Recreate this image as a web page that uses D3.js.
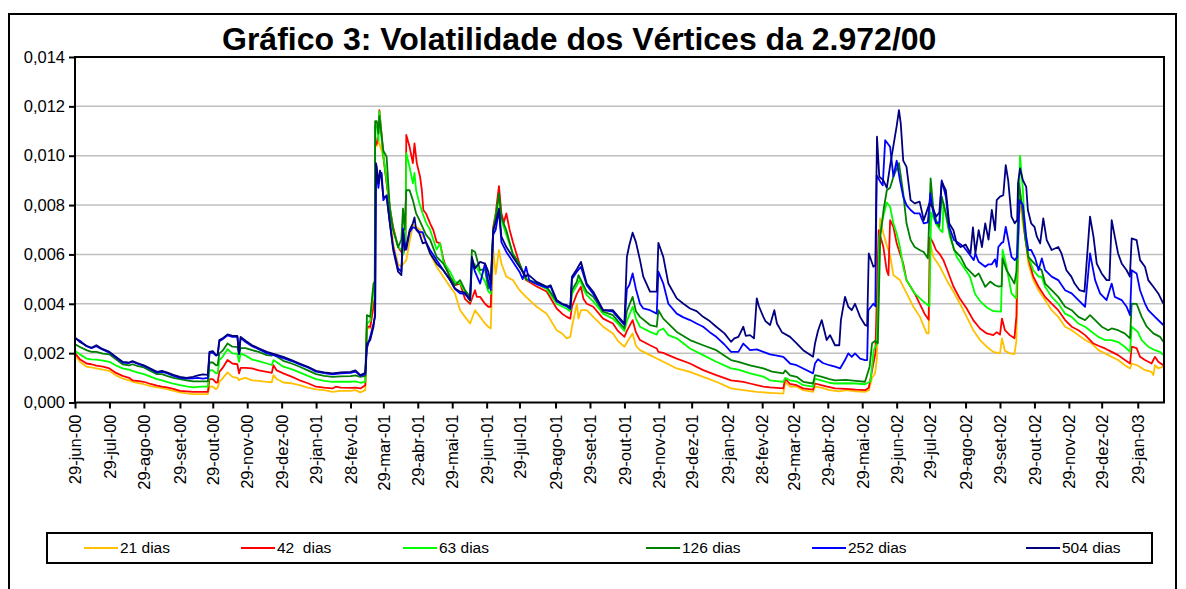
<!DOCTYPE html>
<html>
<head>
<meta charset="utf-8">
<script src="https://cdn.jsdelivr.net/npm/d3@7"></script>
<style>
  body { margin: 0; background: #fff; }
  svg { display: block; font-family: "Liberation Sans", Arial, sans-serif; }
</style>
</head>
<body>
<script>
// values are in thousandths (1,000 = 0,001), x is the business-day index from 29-jun-00
const tickDays = [0, 21, 42, 64, 84, 105, 126, 147, 168, 188, 209, 230, 251, 271, 293, 314,
    335, 356, 376, 398, 419, 438, 459, 480, 501, 521, 543, 564, 585, 606, 626, 648];
const tickLabels = ["29-jun-00", "29-jul-00", "29-ago-00", "29-set-00", "29-out-00", "29-nov-00",
    "29-dez-00", "29-jan-01", "28-fev-01", "29-mar-01", "29-abr-01", "29-mai-01", "29-jun-01",
    "29-jul-01", "29-ago-01", "29-set-01", "29-out-01", "29-nov-01", "29-dez-01", "29-jan-02",
    "28-fev-02", "29-mar-02", "29-abr-02", "29-mai-02", "29-jun-02", "29-jul-02", "29-ago-02",
    "29-set-02", "29-out-02", "29-nov-02", "29-dez-02", "29-jan-03"];
const yTicks = [0, 2, 4, 6, 8, 10, 12, 14];

const seriesNames = ["21 dias", "42  dias", "63 dias", "126 dias", "252 dias", "504 dias"];
const seriesColors = ["#ffc000", "#ff0000", "#00ff00", "#008000", "#0000ff", "#000080"];

const vol21 = [[0,1.92],[3,1.65],[7,1.45],[10,1.42],[13,1.38],[17,1.33],[21,1.28],[25,1.1],[29,0.97],[33,0.9],[35,0.84],[38,0.8],[42,0.74],[46,0.66],[50,0.61],[53,0.58],[56,0.54],[60,0.47],[64,0.41],[68,0.37],[72,0.34],[75,0.34],[78,0.34],[81,0.34],[82,0.64],[84,0.64],[86,0.54],[87,0.6],[88,0.84],[90,0.98],[93,1.22],[96,1.04],[99,1.0],[100,0.9],[101,0.95],[104,1.0],[108,0.9],[112,0.88],[117,0.84],[120,0.82],[121,1.11],[123,0.95],[127,0.81],[132,0.78],[137,0.7],[142,0.6],[147,0.53],[152,0.5],[157,0.43],[162,0.47],[168,0.47],[171,0.5],[174,0.41],[177,0.5],[178,3.0],[180,3.0],[182,4.0],[182.8,4.2],[183,10.4],[184,10.4],[185,10.6],[186,10.4],[187,10.2],[188,9.9],[190,8.9],[192,7.8],[194,6.45],[197,5.6],[199,5.5],[200,5.6],[202,5.77],[204,6.5],[206,7.2],[208.4,7.1],[210.4,7.0],[212.4,6.7],[214,6.5],[216.5,6.04],[220.5,5.5],[224.6,5.1],[228.7,4.69],[231.7,4.42],[234.8,3.74],[237.8,3.47],[240.9,3.2],[243.9,3.74],[247,3.47],[250,3.2],[252,3.07],[253.5,3.0],[255,6.18],[256.5,5.2],[258.5,6.18],[260,5.63],[263,5.1],[267,4.96],[271,4.55],[275,4.28],[281.5,3.88],[287.6,3.6],[293.7,2.93],[297,2.8],[299.8,2.6],[302,2.66],[303,3.07],[306,4.0],[307,3.4],[308.5,3.74],[312,3.74],[316,3.47],[322,3.07],[328,2.8],[331,2.5],[335,2.26],[337.4,2.53],[340,2.8],[342,2.3],[344.5,2.12],[350.6,1.92],[354.7,1.78],[358.7,1.65],[361.8,1.55],[366.9,1.38],[375,1.24],[383,1.04],[391,0.84],[400,0.57],[407.5,0.5],[415.7,0.43],[423.8,0.39],[431.9,0.36],[433,0.84],[436,0.64],[440,0.64],[444,0.5],[450,0.43],[451.2,0.64],[455,0.6],[460,0.5],[466,0.45],[470,0.5],[476,0.45],[481.7,0.43],[484,0.5],[486,1.0],[487.8,1.18],[489,1.8],[490.9,7.46],[492.9,6.85],[494.9,6.38],[497,5.97],[499,5.16],[503,4.96],[507.1,4.42],[511.2,3.88],[515.2,3.47],[519.3,2.8],[520.5,2.8],[521.3,6.45],[523.4,5.9],[527.4,5.5],[531.5,4.96],[535.6,4.49],[539.6,4.0],[543.7,3.47],[547.7,2.93],[551.8,2.53],[555.9,2.26],[559.9,2.05],[564,1.99],[565.2,2.6],[567,2.1],[570,1.99],[572.8,1.96],[574,2.5],[575.5,7.5],[576.5,8.07],[578,7.2],[579.3,6.72],[581.3,5.63],[584.3,4.96],[587.5,4.55],[591.5,4.15],[595.5,3.74],[599.5,3.47],[603.7,3.07],[607.7,2.93],[611.8,2.73],[615.9,2.53],[620,2.39],[624,2.12],[628,1.99],[632.1,1.85],[636,1.72],[640.2,1.51],[643.3,1.38],[644.3,1.58],[648,1.5],[652.4,1.31],[656.4,1.24],[657.5,1.11],[658.5,1.51],[660.5,1.38],[663.6,1.45]];

const vol42 = [[0,2.0],[3,1.75],[7,1.58],[10,1.55],[13,1.49],[17,1.45],[21,1.38],[25,1.2],[29,1.08],[33,1.0],[35,0.9],[38,0.88],[42,0.84],[46,0.75],[50,0.68],[53,0.64],[56,0.61],[60,0.55],[64,0.47],[68,0.45],[72,0.43],[75,0.43],[78,0.43],[81,0.43],[82,0.95],[84,0.95],[86,0.81],[87,0.82],[88,1.24],[90,1.4],[93,1.72],[96,1.58],[99,1.55],[100,1.18],[101,1.4],[104,1.4],[108,1.38],[112,1.3],[117,1.24],[120,1.2],[121,1.51],[123,1.3],[127,1.18],[132,1.05],[137,0.9],[142,0.78],[147,0.64],[152,0.6],[157,0.57],[159,0.64],[162,0.6],[168,0.59],[171,0.6],[174,0.57],[177,0.7],[178,3.07],[180,3.07],[182,3.9],[182.8,4.2],[183,10.4],[184,10.5],[185,11.0],[185.6,11.85],[187,10.8],[188,10.0],[190,8.9],[192,7.9],[194,7.1],[197,6.3],[199,6.1],[200,6.0],[201.5,6.3],[202,10.84],[204,10.36],[206,9.7],[207,10.5],[208.4,9.7],[210.4,9.15],[211.5,8.6],[212.4,7.8],[214,7.66],[216.5,7.26],[218.5,6.98],[220.5,6.5],[222.6,6.45],[224.6,5.8],[228.7,5.03],[231.7,4.76],[234.8,4.82],[237.8,4.2],[240.9,4.0],[243.9,4.55],[245,4.28],[247,4.28],[250,4.0],[252,3.88],[253.5,3.88],[255,7.12],[256.5,7.66],[258.5,8.77],[260,7.66],[261.5,7.3],[263,7.66],[265,7.0],[267,6.5],[271,5.63],[275,4.96],[281.5,4.7],[287.6,4.5],[293.7,3.81],[297,3.6],[299.8,3.47],[302,3.4],[303,3.88],[306,4.4],[308.5,4.69],[310,4.2],[312,4.0],[316,3.88],[322,3.4],[328,3.2],[331,2.9],[335,2.66],[336.5,2.9],[340,3.34],[342,2.85],[344.5,2.53],[350.6,2.32],[354.7,2.19],[355.7,2.05],[358.7,2.01],[361.8,1.92],[366.9,1.78],[375,1.58],[383,1.31],[391,1.11],[400,0.9],[407.5,0.84],[411.6,0.77],[415.7,0.7],[419.7,0.64],[423.8,0.61],[431.9,0.57],[433,0.97],[436,0.75],[440,0.7],[444,0.57],[450,0.52],[451.2,0.77],[455,0.7],[458,0.65],[463.4,0.57],[470,0.55],[476,0.52],[481.7,0.5],[484,0.6],[486.8,1.58],[488,1.99],[490,6.98],[492.9,6.3],[494.9,5.36],[496,5.16],[497,7.39],[499,7.12],[501,6.45],[503,6.04],[505,5.63],[507,4.96],[509.5,4.69],[512,4.42],[515,4.01],[518,3.6],[520.5,3.35],[521.3,6.7],[523,6.5],[525,6.18],[527.4,6.0],[529.5,5.77],[531.5,5.43],[535.6,4.7],[539.6,4.2],[543.7,3.81],[547.7,3.34],[551.8,3.0],[555.9,2.8],[559.9,2.73],[562,2.85],[564,2.75],[565.2,3.4],[567,2.93],[570,2.73],[572.8,2.6],[574,3.5],[575.5,8.0],[576.2,8.3],[578,7.8],[579.3,6.72],[581.3,5.84],[584.3,5.1],[587.5,4.69],[591.5,4.28],[595.5,4.01],[599.5,3.74],[603.7,3.34],[607.7,3.07],[611.8,2.93],[615.9,2.73],[618.9,2.53],[621,2.39],[624,2.3],[628,2.19],[632.1,2.05],[636,1.92],[640.2,1.72],[643.3,1.58],[644.3,2.26],[647.3,2.2],[649.4,1.85],[652.4,1.72],[656.4,1.58],[658.5,1.85],[660.5,1.65],[663.6,1.51]];

const vol63 = [[0,2.1],[3,1.95],[7,1.78],[10,1.75],[13,1.74],[17,1.7],[21,1.65],[25,1.5],[29,1.38],[33,1.33],[35,1.28],[38,1.22],[42,1.15],[46,1.05],[50,0.95],[53,0.9],[56,0.84],[60,0.76],[64,0.7],[68,0.65],[72,0.61],[75,0.63],[78,0.64],[81,0.64],[82,1.31],[84,1.3],[86,1.18],[87,1.2],[88,1.72],[90,1.85],[93,2.16],[96,1.99],[99,1.97],[100,1.65],[101,1.99],[104,1.9],[108,1.74],[112,1.68],[117,1.58],[120,1.52],[121,1.72],[127,1.45],[132,1.35],[137,1.22],[142,1.08],[147,0.95],[152,0.88],[157,0.84],[162,0.84],[168,0.84],[171,0.86],[174,0.8],[177,0.84],[178,3.2],[180,3.3],[182,4.55],[182.8,4.9],[183,11.2],[184,11.2],[185,10.6],[185.6,11.8],[187,10.7],[188,10.0],[190,9.0],[192,7.9],[194,7.0],[197,6.3],[199,6.2],[200,6.0],[201.5,6.4],[202,10.1],[204,9.55],[206,8.88],[207,9.3],[208,8.6],[210,8.07],[212,7.66],[214,7.3],[216.5,7.0],[220.5,6.2],[222.6,6.45],[224.6,5.7],[228.7,5.3],[231.7,4.9],[234.8,4.82],[237.8,4.5],[240.9,4.1],[242,5.5],[243.9,5.6],[247,5.23],[250,4.9],[252,4.5],[253.5,4.4],[255,6.9],[256.5,7.6],[258.5,8.3],[260,7.4],[263,6.8],[267,6.04],[271,5.6],[275,5.0],[281.5,4.8],[287.6,4.6],[293.7,4.0],[299.8,3.8],[302,3.7],[303,4.4],[306,4.75],[308,5.0],[310,4.6],[312,4.35],[316,4.1],[322,3.6],[328,3.4],[331,3.2],[335,2.9],[336.5,3.3],[340,3.88],[342,3.4],[344.5,3.07],[350.6,2.86],[354.7,2.75],[355.7,2.9],[358.7,3.0],[361.8,2.73],[366.9,2.6],[375,2.19],[383,1.92],[391,1.65],[400,1.38],[404.5,1.33],[411.6,1.18],[419.7,1.05],[423.8,0.9],[431.9,0.84],[433,1.0],[436,0.9],[440,0.86],[444,0.7],[450,0.64],[451.2,0.97],[455,0.9],[460,0.8],[463.4,0.77],[470,0.78],[476,0.77],[481.7,0.74],[485,0.85],[487,2.12],[489,2.4],[490.5,6.7],[493,7.6],[495,8.1],[497,7.93],[499,7.26],[501,6.85],[503,6.3],[505,5.5],[507,4.96],[509.5,4.69],[512,4.42],[517.5,4.08],[520,3.95],[521,3.9],[522,7.7],[525.4,7.19],[527.4,7.0],[529,6.9],[529.5,8.1],[531.5,7.4],[533.5,6.7],[537.6,5.9],[541.7,5.5],[545.7,5.1],[548.8,4.4],[552,4.1],[556,3.85],[560,3.7],[564.6,3.68],[565.6,6.18],[568,5.5],[571,4.42],[573.8,4.22],[575,6.0],[576.2,10.0],[578,8.6],[579.3,6.72],[581.3,5.9],[584.3,5.36],[587.5,5.1],[589.4,5.1],[591.5,4.69],[595.5,4.28],[599.5,4.01],[603.7,3.6],[607.7,3.47],[611.8,3.2],[615.9,3.07],[620,2.86],[624,2.66],[628,2.53],[632,2.53],[636,2.45],[640,2.26],[643.3,2.05],[644.3,3.07],[648,2.86],[650.4,2.53],[654.4,2.26],[658.5,2.12],[661.5,2.05],[663.6,1.92]];

const vol126 = [[0,2.36],[3,2.25],[7,2.12],[10,2.05],[13,2.05],[17,1.98],[21,1.95],[25,1.75],[29,1.55],[33,1.5],[35,1.55],[38,1.48],[42,1.42],[46,1.28],[50,1.15],[53,1.15],[56,1.08],[60,1.0],[64,0.95],[68,0.9],[72,0.86],[75,0.86],[78,0.86],[81,0.86],[82,1.62],[84,1.62],[86,1.51],[87,1.52],[88,1.99],[90,2.1],[93,2.39],[96,2.26],[99,2.25],[100,1.95],[101,2.2],[104,2.2],[108,2.12],[112,2.05],[117,1.92],[120,1.9],[121,1.95],[127,1.69],[132,1.58],[137,1.45],[142,1.3],[147,1.15],[152,1.08],[157,1.04],[162,1.06],[168,1.07],[171,1.1],[174,1.04],[177,1.08],[178,3.54],[180,3.47],[182,4.82],[182.8,4.9],[183,11.4],[184,11.4],[185,10.9],[185.6,11.6],[187,10.8],[188,10.2],[190,9.96],[192,7.8],[194,7.0],[197,6.3],[199,6.6],[200,7.86],[201,7.0],[202,8.6],[204,8.6],[206,8.2],[208,7.66],[210,7.39],[212,7.1],[214,6.8],[216.5,6.6],[220.5,5.9],[224.6,5.63],[228.7,5.1],[231.7,4.76],[234.8,4.96],[237.8,4.55],[240.9,4.28],[242,6.18],[243.9,6.1],[247,5.36],[250,5.4],[252,4.62],[253.5,4.9],[255,6.98],[256.5,7.5],[258.5,8.47],[260,7.5],[263,6.98],[267,6.0],[271,5.63],[275,5.0],[281.5,4.85],[287.6,4.69],[293.7,4.1],[299.8,3.9],[302,3.8],[303,4.55],[306,4.9],[307,5.16],[309,4.9],[312,4.49],[316,4.28],[322,3.68],[328,3.54],[331,3.3],[335,3.0],[336.5,3.7],[340,4.28],[342,3.7],[344.5,3.47],[350.6,3.14],[354.7,3.07],[355.7,3.74],[358.7,3.4],[361.8,3.2],[366.9,2.86],[375,2.53],[383,2.32],[391,2.12],[400,1.72],[404.5,1.65],[411.6,1.5],[419.7,1.38],[425,1.25],[431.9,1.18],[433,1.3],[436,1.1],[440,1.04],[444,0.84],[450,0.77],[451.2,1.11],[455,1.05],[460,0.95],[463.4,0.9],[470,0.92],[476,0.88],[481.7,0.84],[484.5,1.45],[486,2.4],[488,2.5],[489.5,2.4],[491,6.72],[493,7.8],[495,8.6],[497,8.7],[499,9.15],[502.4,9.7],[505,8.47],[507,7.26],[509.5,6.58],[512,6.3],[515,6.18],[517.5,6.1],[520,5.84],[521.7,9.08],[523.4,7.8],[525,7.39],[527,7.12],[528.5,8.34],[531,7.66],[533,6.98],[536,6.18],[540,5.9],[543,5.5],[548.8,5.1],[551,5.23],[555,4.69],[558,4.9],[561,4.75],[563,4.7],[565,4.72],[565.6,5.84],[568,5.36],[571,5.03],[572.8,4.82],[574,5.3],[575.6,8.88],[577,8.2],[579.3,6.72],[581.3,5.9],[585,5.63],[589.4,5.36],[591.5,4.82],[595.5,4.55],[599.5,4.28],[603.7,3.88],[607.7,3.74],[611.8,3.47],[615.9,3.34],[618.9,3.54],[622,3.34],[626,3.07],[630,2.93],[632.1,3.0],[636,2.93],[640,2.8],[643.3,2.6],[644.3,4.01],[647.3,4.0],[650.4,3.47],[653.5,3.07],[657.5,2.8],[661.6,2.66],[663.6,2.46]];

const vol252 = [[0,2.6],[3,2.5],[7,2.28],[10,2.2],[13,2.28],[16,2.17],[21,2.02],[25,1.82],[29,1.62],[33,1.6],[35,1.65],[38,1.57],[42,1.48],[46,1.35],[50,1.21],[53,1.24],[56,1.19],[60,1.08],[64,1.0],[68,0.97],[72,0.98],[75,1.0],[78,0.97],[81,1.0],[82,2.0],[84,2.02],[86,1.9],[87,1.93],[88,2.48],[90,2.56],[93,2.72],[96,2.66],[99,2.66],[100,1.97],[101,2.62],[104,2.45],[108,2.28],[112,2.16],[117,2.0],[122,1.9],[127,1.8],[132,1.68],[137,1.54],[142,1.42],[147,1.25],[152,1.19],[157,1.14],[162,1.18],[168,1.2],[171,1.25],[174,1.08],[177,1.15],[178,2.2],[180,2.66],[182,3.2],[183,3.5],[183.5,9.4],[184,9.3],[185,8.7],[186,9.3],[187,9.3],[188,8.2],[190,8.4],[192,7.26],[194,6.3],[197,5.43],[199,5.3],[200,7.05],[201,6.5],[202,6.2],[204,6.9],[206,7.1],[208,7.05],[210,6.9],[212,6.9],[214,6.5],[216.5,6.18],[220.5,5.77],[224.6,5.36],[228.7,4.96],[231.7,4.6],[234.8,4.42],[237.8,4.4],[240.9,4.15],[242,5.7],[243.9,5.3],[247,4.82],[250,5.63],[252,4.9],[253.5,4.55],[255,6.8],[256.5,7.0],[258.5,7.8],[260,6.5],[263,6.1],[267,5.7],[271,5.3],[273,5.0],[275,5.5],[277,4.95],[281.5,4.8],[287.6,4.65],[290,4.7],[293.7,4.1],[297,3.98],[299.8,3.9],[302,3.8],[303,5.0],[306,5.3],[308.5,5.5],[312,4.75],[316,4.4],[322,3.74],[328,3.68],[331,3.45],[335,3.14],[336.5,4.6],[338,4.76],[340,5.23],[342,4.6],[344.5,4.0],[346.5,3.81],[350.6,3.74],[354.7,3.6],[355.7,5.3],[358.7,4.82],[361.8,4.0],[366.9,3.6],[371,3.45],[375,3.34],[379,3.2],[383,3.07],[387,2.85],[391,2.66],[396,2.35],[400,2.05],[404.5,2.05],[407.5,2.39],[411.6,2.12],[415.7,2.15],[419.7,2.05],[423.8,1.95],[428,1.9],[431.9,1.85],[436,1.58],[440,1.51],[444,1.38],[450,1.18],[451.2,1.58],[453,1.75],[456,1.6],[460,1.51],[463.4,1.45],[466.5,1.38],[469.5,1.72],[471.5,1.99],[473.6,1.85],[475.6,1.99],[478.7,1.78],[481.7,1.72],[483,1.72],[483.7,3.74],[486.8,4.0],[488,3.9],[488.8,9.2],[491,8.95],[492.5,8.8],[494,10.63],[497,10.36],[499,9.15],[501,9.8],[503,9.0],[505,8.34],[507,8.0],[509.5,7.8],[512,7.66],[515,7.66],[517.5,7.26],[520,7.3],[521.5,8.47],[523,7.8],[525,7.26],[527,7.3],[528.5,9.0],[531,8.34],[533,7.12],[536,6.58],[539,6.45],[542,6.3],[545,6.04],[548,5.77],[549,6.04],[551,5.7],[553,5.6],[555,5.5],[557,5.6],[559,5.6],[561,5.8],[562,5.5],[563,6.3],[565,6.47],[566,6.5],[567.5,7.12],[569,6.6],[571,5.9],[573,5.77],[574.5,5.9],[576,8.2],[578,8.0],[580,6.72],[581.3,6.18],[583,6.18],[585.5,5.84],[587.5,5.36],[589.5,5.84],[591.5,5.36],[595.5,5.1],[599.5,4.96],[603.7,4.55],[607.7,4.42],[611.8,4.15],[615.9,3.88],[618.9,6.04],[622,4.96],[625,4.42],[629,4.15],[632.1,4.82],[634,4.28],[638.2,4.15],[641.2,3.88],[643.3,3.54],[644.3,5.36],[647.3,5.23],[649.4,4.55],[652.4,4.01],[654.4,3.74],[658.5,3.47],[663.6,3.14]];

const vol504 = [[0,2.64],[3,2.45],[7,2.3],[10,2.22],[13,2.32],[16,2.2],[21,2.05],[25,1.85],[29,1.65],[33,1.62],[35,1.68],[38,1.6],[42,1.51],[46,1.38],[50,1.24],[53,1.28],[56,1.22],[60,1.12],[64,1.04],[68,1.0],[72,1.04],[75,1.1],[78,1.14],[81,1.12],[82,2.05],[84,2.08],[86,1.92],[87,1.95],[88,2.53],[90,2.6],[93,2.76],[96,2.7],[99,2.7],[100,1.99],[101,2.66],[104,2.5],[108,2.32],[112,2.2],[117,2.05],[122,1.95],[127,1.85],[132,1.72],[137,1.58],[142,1.45],[147,1.28],[152,1.22],[157,1.18],[162,1.22],[168,1.24],[171,1.3],[174,1.11],[177,1.2],[178,2.39],[180,2.53],[182,3.07],[183,3.6],[183.5,9.7],[184,9.55],[185,8.88],[186,9.4],[187,9.0],[188,8.34],[190,8.34],[192,7.26],[194,6.18],[197,5.3],[199,5.16],[200,6.98],[201,6.18],[202,6.3],[204,6.98],[206,7.26],[207,7.5],[208,7.0],[210,6.85],[212,6.45],[214,6.5],[216.5,6.04],[220.5,5.63],[224.6,5.36],[228.7,4.96],[231.7,4.62],[234.8,4.49],[237.8,4.45],[240.9,4.15],[242,5.9],[243.9,5.43],[247,5.7],[250,5.63],[252,5.3],[253.5,4.82],[255,6.98],[256.5,7.3],[258.5,7.86],[260,6.72],[263,6.3],[267,5.9],[271,5.5],[275,5.1],[276,5.2],[281.5,4.89],[287.6,4.69],[290,4.75],[293.7,4.15],[297,4.0],[299.8,3.95],[302,3.85],[303,5.1],[306,5.4],[308.5,5.7],[312,4.82],[316,4.49],[322,3.74],[328,3.74],[331,3.5],[335,3.2],[336.5,5.9],[338,6.38],[340,6.88],[342,6.5],[344.5,5.77],[346.5,5.1],[350.6,4.49],[354.7,4.49],[355.7,6.47],[358.7,5.9],[361.8,4.82],[366.9,4.22],[371,4.0],[375,3.81],[379,3.7],[383,3.47],[387,3.3],[391,3.07],[396,2.8],[400,2.46],[402,2.6],[404.5,2.66],[407.5,3.07],[409,2.7],[411.6,2.73],[414,2.6],[415.7,4.22],[417,3.9],[419.7,3.47],[421,3.3],[423.8,3.14],[426.4,3.74],[428,3.2],[431,2.85],[436,2.66],[440,2.4],[444,2.12],[450,1.85],[451.2,2.39],[453,2.9],[455.3,3.34],[458.3,2.53],[460.4,2.73],[463.4,2.32],[466,2.32],[467,3.34],[469.5,4.28],[471.5,3.88],[473.6,3.74],[475.6,4.0],[478.7,3.47],[481.7,3.14],[483,3.1],[484,6.04],[486.8,5.5],[488,5.57],[489,10.77],[490.4,9.15],[492.9,9.0],[495,8.7],[497,9.6],[499,10.4],[501,11.2],[502.4,11.85],[503.5,11.3],[505,9.8],[507,9.55],[509.5,8.2],[512,8.07],[515,8.14],[517.5,7.39],[521,8.07],[523,7.9],[525,7.53],[527,7.7],[528.5,8.95],[531,8.6],[533,7.26],[535.6,6.98],[537.6,6.45],[540,6.3],[543,6.4],[546,6.04],[547.5,7.1],[549,6.04],[551,6.98],[553,6.3],[555,7.26],[557,6.6],[559,7.8],[561,6.98],[562,8.2],[564,8.34],[566,8.4],[567.5,9.62],[569,9.0],[571,7.53],[573,7.26],[574.5,7.4],[575,8.88],[576.2,9.49],[578,9.0],[580,8.74],[581,7.8],[583,7.26],[585,7.12],[586.5,6.72],[588.5,6.45],[590.4,7.46],[592.5,6.58],[595.5,6.18],[599.5,6.3],[601.5,6.04],[604.5,5.36],[607.5,5.1],[609.5,4.82],[612.5,4.55],[615.5,4.49],[618.9,7.53],[621,6.72],[623,5.63],[626,5.23],[629,4.96],[630.7,4.96],[632.1,7.39],[634,6.72],[636,6.04],[638.2,5.63],[641.2,5.36],[643.2,5.1],[644.3,6.65],[647.3,6.58],[649.4,5.77],[652.4,5.5],[654.4,4.96],[657.5,4.69],[660.5,4.42],[663.6,4.01]];

const allSeries = [vol21, vol42, vol63, vol126, vol252, vol504];

// layout
const W = 1186, H = 589;
const plot = { left: 75, right: 1164, top: 57, bottom: 402.5 };
const legendBox = { x: 47, y: 533, w: 1105, h: 30 };
const legendX = [84, 241, 403, 646, 812, 1026];
const axisFont = 16.5;

const svg = d3.select("body").append("svg")
    .attr("width", W)
    .attr("height", H);

svg.append("rect").attr("width", W).attr("height", H).attr("fill", "#fff");

// chart frame
svg.append("rect")
    .attr("x", 9).attr("y", 14)
    .attr("width", 1167).attr("height", 620)
    .attr("fill", "none").attr("stroke", "#000").attr("stroke-width", 2);

const x = d3.scaleLinear().domain([0, 664]).range([plot.left, plot.right]);
const y = d3.scaleLinear().domain([0, 14]).range([plot.bottom, plot.top]);

// grid lines
svg.append("g")
    .selectAll("line")
    .data(yTicks.filter(d => d > 0 && d < 14))
    .enter().append("line")
    .attr("x1", plot.left).attr("x2", plot.right)
    .attr("y1", d => y(d)).attr("y2", d => y(d))
    .attr("stroke", "#c0c0c0").attr("stroke-width", 1.5);

// series
const line = d3.line()
    .x(d => x(d[0]))
    .y(d => y(d[1]));

svg.append("g")
    .selectAll("path")
    .data(allSeries)
    .enter().append("path")
    .attr("d", line)
    .attr("fill", "none")
    .attr("stroke", (d, i) => seriesColors[i])
    .attr("stroke-width", 1.8)
    .attr("stroke-linejoin", "round");

// plot area border
svg.append("rect")
    .attr("x", plot.left).attr("y", plot.top)
    .attr("width", plot.right - plot.left).attr("height", plot.bottom - plot.top)
    .attr("fill", "none").attr("stroke", "#000").attr("stroke-width", 2);

const fmt = d => d3.format(".3f")(d / 1000).replace(".", ",");

const yAxis = svg.append("g")
    .attr("transform", `translate(${plot.left},0)`)
    .call(d3.axisLeft(y).tickValues(yTicks).tickSize(6).tickPadding(4).tickFormat(fmt));
yAxis.select(".domain").remove();
yAxis.selectAll("line").attr("stroke", "#000").attr("stroke-width", 2);
yAxis.selectAll("text")
    .attr("font-size", axisFont)
    .attr("font-family", "Liberation Sans, Arial, sans-serif")
    .attr("fill", "#000");

const xAxis = svg.append("g")
    .attr("transform", `translate(0,${plot.bottom})`)
    .call(d3.axisBottom(x).tickValues(tickDays).tickSize(6).tickFormat((d, i) => tickLabels[i]));
xAxis.select(".domain").remove();
xAxis.selectAll("line").attr("stroke", "#000").attr("stroke-width", 2);
xAxis.selectAll("text")
    .attr("transform", "rotate(-90)")
    .attr("text-anchor", "end")
    .attr("x", -12)
    .attr("y", 0)
    .attr("dy", "0.35em")
    .attr("font-size", axisFont)
    .attr("font-family", "Liberation Sans, Arial, sans-serif")
    .attr("fill", "#000");

// title
svg.append("text")
    .attr("x", 222).attr("y", 50)
    .attr("font-size", 32)
    .attr("font-weight", "bold")
    .text("Gráfico 3: Volatilidade dos Vértices da 2.972/00");

// legend
svg.append("rect")
    .attr("x", legendBox.x).attr("y", legendBox.y)
    .attr("width", legendBox.w).attr("height", legendBox.h)
    .attr("fill", "#fff").attr("stroke", "#000").attr("stroke-width", 2);

const leg = svg.append("g")
    .selectAll("g")
    .data(seriesNames)
    .enter().append("g")
    .attr("transform", (d, i) => `translate(${legendX[i]},${legendBox.y + legendBox.h / 2})`);
leg.append("line")
    .attr("x1", 0).attr("x2", 34)
    .attr("stroke", (d, i) => seriesColors[i])
    .attr("stroke-width", 2);
leg.append("text")
    .attr("x", 36).attr("dy", "0.35em")
    .attr("font-size", 15.5)
    .style("white-space", "pre")
    .text(d => d);
</script>
</body>
</html>
